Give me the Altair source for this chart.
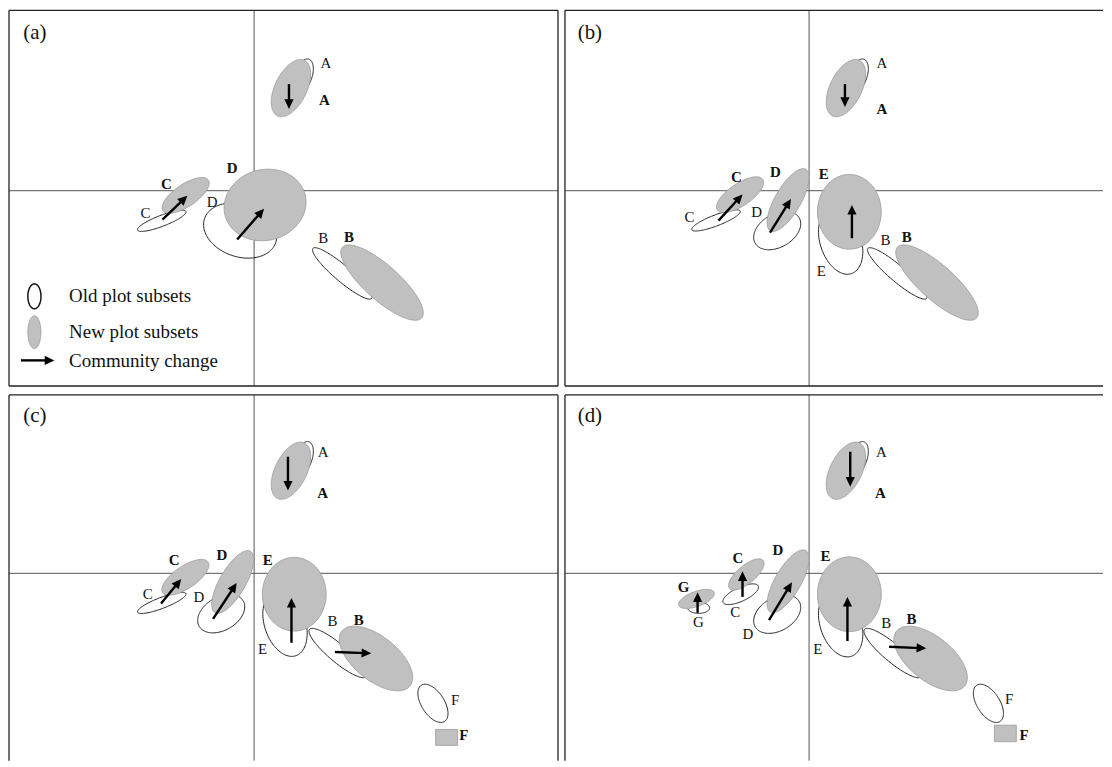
import math
import pandas as pd
import altair as alt

FONT = "Liberation Serif"
GRAY = "#c0c0c0"
GRAY_EDGE = "#9a9a9a"
DARK = "#222222"

# ---------------- data (ordination axis scores) ----------------
# ellipses: (subset, centre x, centre y, semi-major, semi-minor, tilt deg)
old_a = [("A", 0.49, 1.15, 0.18, 0.09, 70), ("C", -0.927, -0.302, 0.26, 0.055, 21),
         ("D", -0.14, -0.40, 0.377, 0.263, -18.7), ("B", 0.885, -0.83, 0.387, 0.08, -40.4)]
new_a = [("A", 0.37, 1.03, 0.31, 0.16, 64), ("C", -0.687, -0.047, 0.275, 0.112, 34),
         ("D", 0.11, -0.143, 0.415, 0.355, 15), ("B", 1.284, -0.922, 0.533, 0.174, -41.8)]
arrows_a = [("A", 0.35, 1.07, 0.35, 0.82), ("C", -0.92, -0.29, -0.67, -0.05),
            ("D", -0.17, -0.49, 0.10, -0.18)]
lab_old_a = [("A", 0.72, 1.28), ("C", -1.09, -0.22), ("D", -0.42, -0.11), ("B", 0.694, -0.47)]
lab_new_a = [("A", 0.705, 0.91), ("C", -0.88, 0.07), ("D", -0.22, 0.23), ("B", 0.953, -0.463)]

old_b = [("A", 0.49, 1.15, 0.18, 0.09, 70), ("C", -0.934, -0.298, 0.26, 0.055, 21),
         ("D", -0.32, -0.40, 0.255, 0.167, 30), ("E", 0.317, -0.51, 0.34, 0.205, -71.4),
         ("B", 0.885, -0.83, 0.387, 0.08, -40.4)]
new_b = [("A", 0.37, 1.03, 0.31, 0.16, 64), ("C", -0.693, -0.04, 0.275, 0.112, 34),
         ("D", -0.211, -0.094, 0.356, 0.13, 60), ("E", 0.404, -0.212, 0.375, 0.32, 90),
         ("B", 1.284, -0.922, 0.533, 0.174, -41.8)]
arrows_b = [("A", 0.36, 1.07, 0.36, 0.84), ("C", -0.909, -0.30, -0.668, -0.037),
            ("D", -0.392, -0.42, -0.182, -0.083), ("E", 0.43, -0.477, 0.43, -0.143)]
lab_old_b = [("A", 0.73, 1.28), ("C", -1.20, -0.267), ("D", -0.526, -0.21),
             ("E", 0.122, -0.803), ("B", 0.768, -0.493)]
lab_new_b = [("A", 0.73, 0.817), ("C", -0.73, 0.14), ("D", -0.338, 0.19),
             ("E", 0.147, 0.163), ("B", 0.98, -0.46)]

old_c = [("A", 0.49, 1.15, 0.18, 0.09, 70), ("C", -0.927, -0.297, 0.26, 0.055, 21),
         ("D", -0.33, -0.405, 0.255, 0.167, 30), ("E", 0.31, -0.505, 0.34, 0.205, -71.4),
         ("B", 0.84, -0.80, 0.37, 0.09, -40), ("F", 1.795, -1.305, 0.216, 0.114, -57.3)]
new_c = [("A", 0.37, 1.03, 0.31, 0.16, 64), ("C", -0.69, -0.04, 0.275, 0.112, 34),
         ("D", -0.215, -0.087, 0.356, 0.13, 60), ("E", 0.403, -0.21, 0.37, 0.32, 90),
         ("B", 1.223, -0.855, 0.439, 0.22, -38.9)]
single_c = [("F", 1.932, -1.647, 0.11, 0.08)]
arrows_c = [("A", 0.34, 1.17, 0.34, 0.83), ("C", -0.934, -0.303, -0.731, -0.057),
            ("D", -0.412, -0.457, -0.175, -0.097), ("E", 0.375, -0.697, 0.375, -0.247),
            ("B", 0.811, -0.79, 1.176, -0.803)]
lab_old_c = [("A", 0.694, 1.22), ("C", -1.068, -0.203), ("D", -0.554, -0.237),
             ("E", 0.084, -0.763), ("B", 0.786, -0.48), ("F", 2.017, -1.27)]
lab_new_c = [("A", 0.687, 0.81), ("C", -0.802, 0.137), ("D", -0.324, 0.187),
             ("E", 0.137, 0.137), ("B", 1.049, -0.473), ("F", 2.105, -1.62)]

old_d = [("A", 0.49, 1.15, 0.18, 0.09, 70), ("G", -1.108, -0.347, 0.11, 0.055, 0),
         ("C", -0.686, -0.21, 0.195, 0.07, 25), ("D", -0.32, -0.41, 0.255, 0.167, 30),
         ("E", 0.317, -0.51, 0.34, 0.205, -71.4), ("B", 0.84, -0.80, 0.37, 0.09, -40),
         ("F", 1.80, -1.305, 0.216, 0.114, -57.3)]
new_d = [("A", 0.37, 1.03, 0.31, 0.16, 64), ("G", -1.13, -0.257, 0.19, 0.075, 20),
         ("C", -0.63, -0.012, 0.22, 0.09, 40), ("D", -0.211, -0.08, 0.356, 0.13, 60),
         ("E", 0.404, -0.21, 0.375, 0.32, 90), ("B", 1.22, -0.855, 0.439, 0.22, -38.9)]
single_d = [("F", 1.97, -1.607, 0.11, 0.083)]
arrows_d = [("A", 0.413, 1.22, 0.413, 0.87), ("G", -1.119, -0.397, -1.119, -0.19),
            ("C", -0.668, -0.237, -0.668, 0.02), ("D", -0.402, -0.47, -0.172, -0.09),
            ("E", 0.385, -0.68, 0.385, -0.237), ("B", 0.803, -0.737, 1.176, -0.753)]
lab_old_d = [("A", 0.725, 1.22), ("G", -1.112, -0.49), ("C", -0.74, -0.39),
             ("D", -0.615, -0.613), ("E", 0.087, -0.763), ("B", 0.775, -0.497),
             ("F", 2.009, -1.263)]
lab_new_d = [("A", 0.715, 0.81), ("G", -1.26, -0.14), ("C", -0.714, 0.153),
             ("D", -0.314, 0.237), ("E", 0.165, 0.17), ("B", 1.027, -0.463),
             ("F", 2.158, -1.62)]

# legend (panel a)
legend_text = ["Old plot subsets", "New plot subsets", "Community change"]
legend_old = [("L", -2.205, -1.06, 0.125, 0.066, 90)]
legend_new = [("L", -2.205, -1.42, 0.165, 0.066, 90)]
legend_arrow = [("L", -2.34, -1.703, -2.005, -1.703)]
legend_text_pos = [(-1.857, -1.06), (-1.857, -1.42), (-1.857, -1.71)]

panel_letters = ["(a)", "(b)", "(c)", "(d)"]
letter_pos = (-2.20, 1.58)


# ---------------- geometry helpers ----------------
def ellipse_band(rows, n=90):
    """upper / lower boundary of each ellipse, for the fill"""
    out = []
    for g, cx, cy, a, b, th in rows:
        t = math.radians(th)
        c, s = math.cos(t), math.sin(t)
        A = c * c / a / a + s * s / b / b
        B = 2 * s * c * (1 / a / a - 1 / b / b)
        C = s * s / a / a + c * c / b / b
        W = math.sqrt(a * a * c * c + b * b * s * s)
        for k in range(n + 1):
            u = -W * math.cos(math.pi * k / n)
            disc = max(B * B * u * u - 4 * C * (A * u * u - 1), 0.0)
            r = math.sqrt(disc)
            out.append({"id": g, "x": cx + u,
                        "yt": cy + (-B * u + r) / (2 * C),
                        "yb": cy + (-B * u - r) / (2 * C)})
    return pd.DataFrame(out)


def ellipse_ring(rows, n=120):
    """closed outline of each ellipse"""
    out = []
    for g, cx, cy, a, b, th in rows:
        t = math.radians(th)
        c, s = math.cos(t), math.sin(t)
        for k in range(n + 1):
            p = 2 * math.pi * k / n
            out.append({"id": g, "k": k,
                        "x": cx + a * c * math.cos(p) - b * s * math.sin(p),
                        "y": cy + a * s * math.cos(p) + b * c * math.sin(p)})
    return pd.DataFrame(out)


def arrow_frames(rows, cut=0.06):
    lines, heads = [], []
    for g, x0, y0, x1, y1 in rows:
        dx, dy = x1 - x0, y1 - y0
        L = math.hypot(dx, dy)
        ang = math.degrees(math.atan2(dx, dy)) % 360
        lines.append({"id": g, "x": x0, "y": y0,
                      "x2": x1 - dx / L * cut, "y2": y1 - dy / L * cut})
        heads.append({"id": g, "x": x1, "y": y1, "ang": ang})
    return pd.DataFrame(lines), pd.DataFrame(heads)


HEAD = "M0,0L-0.5,1.05L0.5,1.05Z"


def panel(letter, old, new, arrows, lab_old, lab_new, xdom, ydom, w, h, edges,
          single=None, legend=False):
    xs = alt.Scale(domain=xdom, nice=False, zero=False)
    ys = alt.Scale(domain=ydom, nice=False, zero=False)
    X = lambda f: alt.X(f, scale=xs, axis=None)
    Y = lambda f: alt.Y(f, scale=ys, axis=None)

    layers = []
    base_pt = pd.DataFrame({"x": [0.0], "y": [0.0]})
    layers.append(alt.Chart(base_pt).mark_rule(color="#555555", strokeWidth=1)
                  .encode(x=X("x:Q")))
    layers.append(alt.Chart(base_pt).mark_rule(color="#555555", strokeWidth=1)
                  .encode(y=Y("y:Q")))

    # panel frame (only the edges that are visible in the figure)
    vx = [v for e, v in (("l", xdom[0]), ("r", xdom[1])) if e in edges]
    hy = [v for e, v in (("b", ydom[0]), ("t", ydom[1])) if e in edges]
    if vx:
        layers.append(alt.Chart(pd.DataFrame({"x": vx})).mark_rule(color=DARK, strokeWidth=1.3)
                      .encode(x=X("x:Q")))
    if hy:
        layers.append(alt.Chart(pd.DataFrame({"y": hy})).mark_rule(color=DARK, strokeWidth=1.3)
                      .encode(y=Y("y:Q")))

    def outline(rows, color, sw):
        return alt.Chart(ellipse_ring(rows)).mark_line(
            color=color, strokeWidth=sw
        ).encode(x=X("x:Q"), y=Y("y:Q"), detail="id:N", order="k:Q")

    def fill(rows):
        return alt.Chart(ellipse_band(rows)).mark_area(
            fill=GRAY, fillOpacity=1, orient="vertical"
        ).encode(
            x=X("x:Q"),
            y=alt.Y("yt:Q", scale=ys, axis=None, stack=None),
            y2="yb:Q",
            detail="id:N",
        )

    def arrow_layers(rows):
        ln, hd = arrow_frames(rows)
        return [
            alt.Chart(ln).mark_rule(color="black", strokeWidth=2.4)
            .encode(x=X("x:Q"), y=Y("y:Q"), x2="x2:Q", y2="y2:Q"),
            alt.Chart(hd).mark_point(shape=HEAD, filled=True, color="black",
                                     opacity=1, size=340, strokeWidth=0)
            .encode(x=X("x:Q"), y=Y("y:Q"), angle=alt.Angle("ang:Q", scale=None)),
        ]

    layers.append(outline(old, DARK, 1.0))
    layers.append(fill(new))
    layers.append(outline(new, GRAY_EDGE, 0.8))
    if single:
        sq = pd.DataFrame([{"id": g, "x": cx - hw, "x2": cx + hw, "y": cy - hh, "y2": cy + hh}
                           for g, cx, cy, hw, hh in single])
        layers.append(alt.Chart(sq).mark_rect(fill=GRAY, stroke=GRAY_EDGE, strokeWidth=0.8)
                      .encode(x=X("x:Q"), x2="x2:Q", y=Y("y:Q"), y2="y2:Q"))
    layers += arrow_layers(arrows)

    lo = pd.DataFrame(lab_old, columns=["t", "x", "y"])
    ln_ = pd.DataFrame(lab_new, columns=["t", "x", "y"])
    layers.append(alt.Chart(lo).mark_text(font=FONT, fontSize=15, color="#111")
                  .encode(x=X("x:Q"), y=Y("y:Q"), text="t:N"))
    layers.append(alt.Chart(ln_).mark_text(font=FONT, fontSize=15, fontWeight="bold",
                                           color="#111")
                  .encode(x=X("x:Q"), y=Y("y:Q"), text="t:N"))
    lt = pd.DataFrame([{"t": letter, "x": letter_pos[0], "y": letter_pos[1]}])
    layers.append(alt.Chart(lt).mark_text(font=FONT, fontSize=21, color="#111")
                  .encode(x=X("x:Q"), y=Y("y:Q"), text="t:N"))

    if legend:
        layers.append(outline(legend_old, "#111111", 1.5))
        layers.append(fill(legend_new))
        layers.append(outline(legend_new, GRAY_EDGE, 0.8))
        layers += arrow_layers(legend_arrow)
        tt = pd.DataFrame([{"t": t, "x": p[0], "y": p[1]}
                           for t, p in zip(legend_text, legend_text_pos)])
        layers.append(alt.Chart(tt).mark_text(font=FONT, fontSize=19, align="left",
                                              baseline="middle", color="#111")
                      .encode(x=X("x:Q"), y=Y("y:Q"), text="t:N"))

    return alt.layer(*layers).properties(width=w, height=h)


XL, XR = [-2.46, 3.05], [-2.45, 2.95]
YT, YB = [-1.96, 1.81], [-1.88, 1.79]

pa = panel("(a)", old_a, new_a, arrows_a, lab_old_a, lab_new_a, XL, YT, 551, 377, "lrtb",
           legend=True)
pb = panel("(b)", old_b, new_b, arrows_b, lab_old_b, lab_new_b, XR, YT, 540, 377, "ltb")
pc = panel("(c)", old_c, new_c, arrows_c, lab_old_c, lab_new_c, XL, YB, 551, 367, "lrt",
           single=single_c)
pd_ = panel("(d)", old_d, new_d, arrows_d, lab_old_d, lab_new_d, XR, YB, 540, 367, "lt",
            single=single_d)

chart = alt.vconcat(
    alt.hconcat(pa, pb, spacing=5),
    alt.hconcat(pc, pd_, spacing=5),
    spacing=7,
).properties(padding=0).configure_view(strokeWidth=0)

chart.save("out.html", embed_options={"renderer": "svg", "actions": False})
